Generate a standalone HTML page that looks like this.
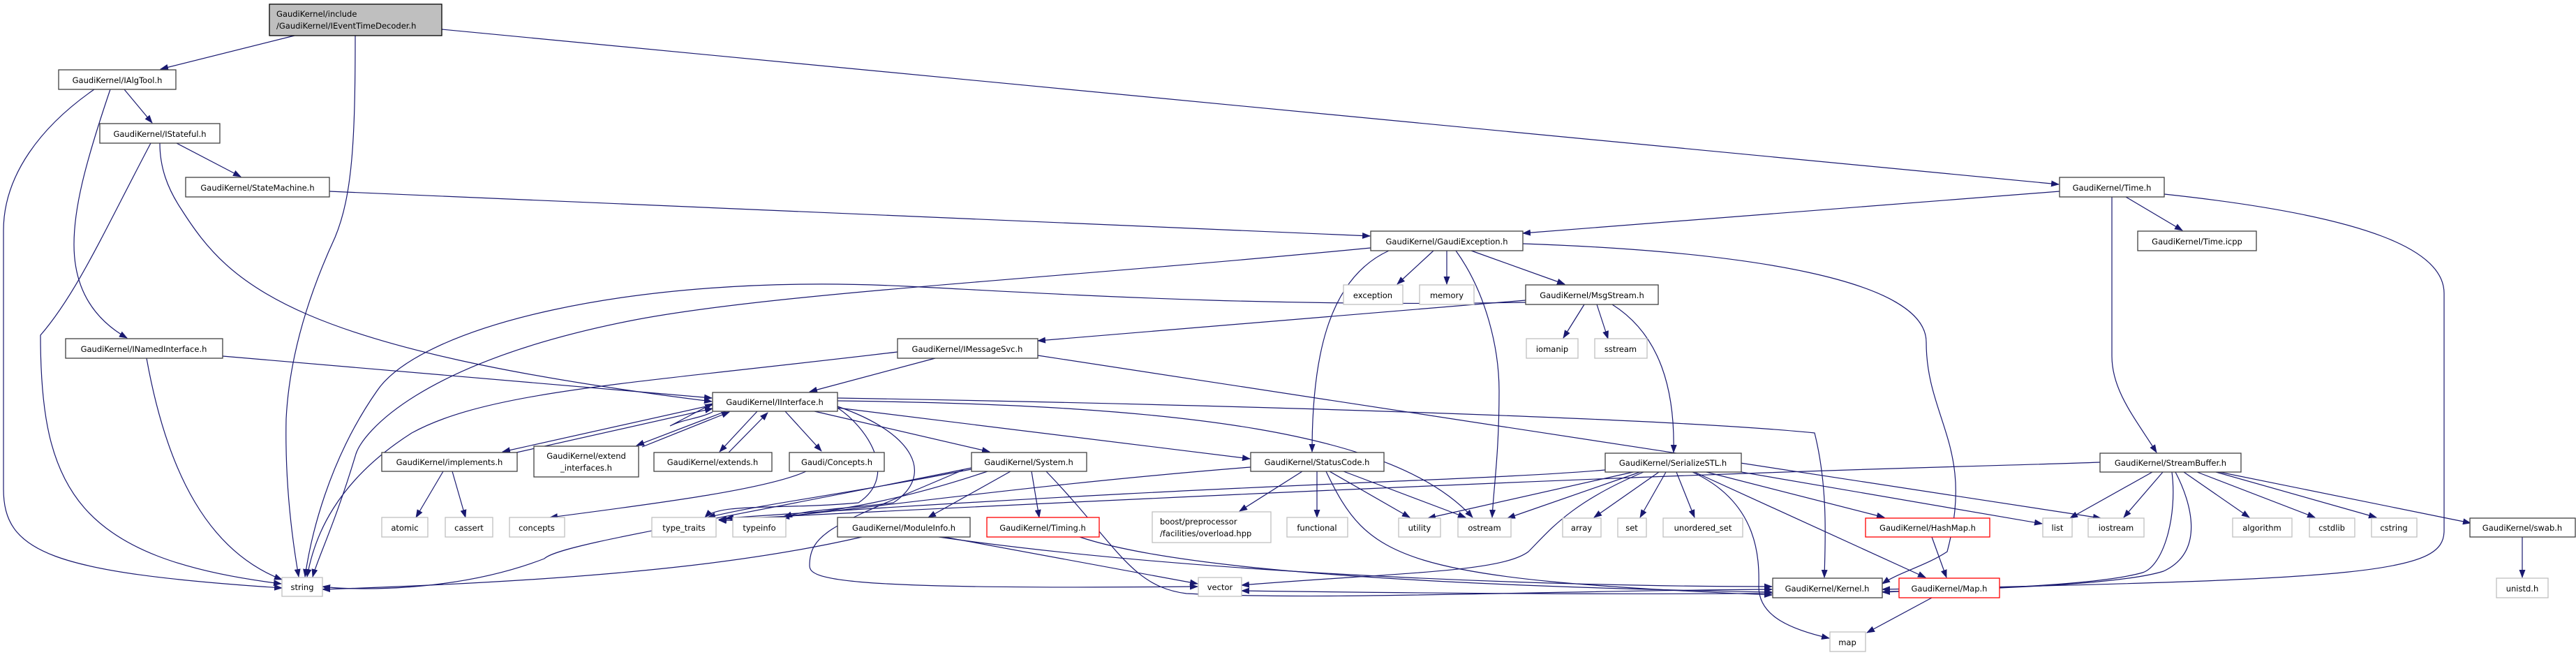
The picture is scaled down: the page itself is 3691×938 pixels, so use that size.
<!DOCTYPE html>
<html><head><meta charset="utf-8"><style>
html,body{margin:0;padding:0;background:#fff;}
svg{display:block;}
text{font-family:"DejaVu Sans","Liberation Sans",sans-serif;font-size:11.5px;fill:#000;}
.e{fill:none;stroke:#191970;stroke-width:1.2;}
.n{fill:#fff;stroke:#404040;stroke-width:1.3;}
.x{fill:#fff;stroke:#bfbfbf;stroke-width:1.3;}
.r{fill:#fff;stroke:#ff0000;stroke-width:1.3;}
</style></head><body>
<svg width="3691" height="938" viewBox="0 0 3691 938" xmlns="http://www.w3.org/2000/svg">
<defs><marker id="a" markerWidth="12" markerHeight="9" refX="11" refY="4.5" orient="auto" markerUnits="userSpaceOnUse"><path d="M0,0 L12,4.5 L0,9 z" fill="#191970"/></marker></defs>
<g marker-end="url(#a)">
<!-- root -->
<path class="e" d="M422,51 L230,99"/>
<path class="e" d="M509,51 C509,200 505,280 480,340 C420,470 412,560 410,600 C408,700 420,780 428,826"/>
<path class="e" d="M633,42 L2950,264"/>
<!-- IAlgTool -->
<path class="e" d="M178,128 L218,176"/>
<path class="e" d="M158,128 C120,240 106,300 106,350 C106,420 140,460 182,484"/>
<path class="e" d="M135,128 C60,180 5,250 5,330 L5,700 C5,790 70,820 404,842"/>
<!-- IStateful -->
<path class="e" d="M253,205 L345,253"/>
<path class="e" d="M216,205 C150,330 110,420 58,480 C58,700 110,800 403,836"/>
<path class="e" d="M229,205 C229,240 240,270 260,300 C330,410 420,500 1020,575"/>
<!-- StateMachine -->
<path class="e" d="M472,274 L1963,338"/>
<!-- INamedInterface -->
<path class="e" d="M319,510 L1020,570"/>
<path class="e" d="M210,513 C240,680 300,790 404,830"/>
<!-- IMessageSvc -->
<path class="e" d="M1340,513 L1160,561"/>
<path class="e" d="M1286,504 C900,550 700,560 590,620 C480,690 450,770 440,826"/>
<path class="e" d="M1487,509 L3010,742"/>
<!-- MsgStream -->
<path class="e" d="M2186,430 L1487,488"/>
<path class="e" d="M2186,433 C1800,440 1500,420 1300,410 C900,390 600,470 540,560 C470,660 445,770 437,826"/>
<path class="e" d="M2270,436 L2240,484"/>
<path class="e" d="M2288,436 L2304,485"/>
<path class="e" d="M2310,436 C2380,480 2400,560 2398,648"/>
<!-- GaudiException -->
<path class="e" d="M2054,359 L2002,407"/>
<path class="e" d="M2073,359 L2073,407"/>
<path class="e" d="M2108,359 L2242,407"/>
<path class="e" d="M2086,359 C2130,420 2148,500 2148,560 C2148,650 2140,700 2138,741"/>
<path class="e" d="M1990,359 C1900,400 1880,520 1880,647"/>
<path class="e" d="M1964,355 C1500,400 1100,420 900,460 C600,520 520,620 510,650 C480,750 455,800 448,826"/>
<path class="e" d="M2182,349 C2500,360 2760,400 2760,490 C2760,600 2830,640 2790,790 C2760,810 2720,820 2697,836"/>
<!-- Time.h -->
<path class="e" d="M2951,274 L2182,334"/>
<path class="e" d="M3046,282 L3127,330"/>
<path class="e" d="M3026,282 L3026,510 C3026,560 3060,600 3090,648"/>
<path class="e" d="M3101,278 C3400,310 3502,360 3502,420 L3502,760 C3502,820 3400,830 2697,844"/>
<!-- IInterface -->
<path class="e" d="M1021,580 L720,647"/>
<path class="e" d="M731,650 L1021,585"/>
<path class="e" d="M1040,589 L912,638"/>
<path class="e" d="M920,640 L1045,590"/>
<path class="e" d="M1085,589 L1031,647"/>
<path class="e" d="M1044,648 L1100,591"/>
<path class="e" d="M1125,589 L1177,646"/>
<path class="e" d="M1167,589 L1418,647"/>
<path class="e" d="M1200,584 L1791,657"/>
<path class="e" d="M1200,584 C1240,610 1290,680 1230,720 C1120,730 1030,720 1010,741"/>
<path class="e" d="M1200,582 C1310,620 1340,680 1280,720 C1200,730 1150,730 1124,741"/>
<path class="e" d="M1200,574 C1700,580 2000,620 2110,741"/>
<path class="e" d="M1200,570 C1800,580 2400,600 2600,620 C2620,700 2615,780 2614,827"/>
<path class="e" d="M1021,590 C1000,600 980,600 960,610 L1021,578"/>
<!-- implements, Concepts -->
<path class="e" d="M635,675 L596,741"/>
<path class="e" d="M648,675 L667,741"/>
<path class="e" d="M1155,675 C1100,700 950,720 788,741"/>
<!-- System -->
<path class="e" d="M1392,672 C1200,710 1100,720 1014,741"/>
<path class="e" d="M1415,675 C1280,720 1200,730 1120,741"/>
<path class="e" d="M1448,675 L1330,741"/>
<path class="e" d="M1478,675 L1489,741"/>
<path class="e" d="M1392,670 C1000,750 800,780 780,800 C650,850 500,845 462,840"/>
<path class="e" d="M1380,673 C1200,750 1160,760 1160,810 C1160,830 1200,845 1716,840"/>
<path class="e" d="M1499,675 C1600,780 1620,840 1700,850 C1900,860 2200,846 2539,844"/>
<!-- ModuleInfo, Timing -->
<path class="e" d="M1353,769 L1716,836"/>
<path class="e" d="M1235,769 C1100,800 900,830 462,844"/>
<path class="e" d="M1345,769 C1700,820 2200,840 2539,840"/>
<path class="e" d="M1547,769 C1700,820 2100,840 2539,848"/>
<!-- StatusCode -->
<path class="e" d="M1866,675 L1776,732"/>
<path class="e" d="M1887,675 L1887,741"/>
<path class="e" d="M1905,675 L2020,741"/>
<path class="e" d="M1925,675 L2100,741"/>
<path class="e" d="M1900,675 C1960,800 2000,830 2539,852"/>
<path class="e" d="M1792,669 C1400,700 1100,750 1030,745"/>
<!-- SerializeSTL -->
<path class="e" d="M2340,676 L2046,742"/>
<path class="e" d="M2350,676 L2160,742"/>
<path class="e" d="M2377,676 L2284,741"/>
<path class="e" d="M2387,676 L2350,741"/>
<path class="e" d="M2402,676 L2428,741"/>
<path class="e" d="M2445,676 L2700,741"/>
<path class="e" d="M2495,676 L2926,750"/>
<path class="e" d="M2425,676 C2520,720 2521,800 2520,840 C2520,880 2560,900 2621,914"/>
<path class="e" d="M2428,676 L2759,827"/>
<path class="e" d="M2355,676 C2250,720 2220,760 2190,790 C2150,820 2000,820 1779,838"/>
<path class="e" d="M2300,673 C2100,690 1800,690 1040,742"/>
<!-- HashMap, Map, swab -->
<path class="e" d="M2768,769 L2789,827"/>
<path class="e" d="M2768,856 L2675,906"/>
<path class="e" d="M3614,769 L3614,827"/>
<!-- StreamBuffer -->
<path class="e" d="M3084,676 L2966,742"/>
<path class="e" d="M3099,676 L3043,741"/>
<path class="e" d="M3129,676 L3223,741"/>
<path class="e" d="M3148,676 L3317,741"/>
<path class="e" d="M3175,676 L3405,741"/>
<path class="e" d="M3180,676 L3540,749"/>
<path class="e" d="M3112,676 C3120,740 3100,810 3070,820 C3000,840 2800,844 2697,848"/>
<path class="e" d="M3117,676 C3140,720 3160,790 3100,818 C3000,850 2500,856 1779,846"/>
<path class="e" d="M3009,662 C2800,670 2500,670 1030,744"/>
</g>
<!-- nodes -->
<rect x="386" y="6" width="247" height="45" fill="#bfbfbf" stroke="#000" stroke-width="1.3"/>
<text x="396" y="24">GaudiKernel/include</text><text x="396" y="41">/GaudiKernel/IEventTimeDecoder.h</text>
<rect class="n" x="84" y="100" width="168" height="28"/><text x="168" y="119" text-anchor="middle">GaudiKernel/IAlgTool.h</text>
<rect class="n" x="143" y="177" width="172" height="28"/><text x="229" y="196" text-anchor="middle">GaudiKernel/IStateful.h</text>
<rect class="n" x="266" y="254" width="206" height="28"/><text x="369" y="273" text-anchor="middle">GaudiKernel/StateMachine.h</text>
<rect class="n" x="94" y="485" width="225" height="28"/><text x="206" y="504" text-anchor="middle">GaudiKernel/INamedInterface.h</text>
<rect class="x" x="404" y="827" width="58" height="27"/><text x="433" y="845" text-anchor="middle">string</text>
<rect class="n" x="547" y="648" width="194" height="27"/><text x="644" y="666" text-anchor="middle">GaudiKernel/implements.h</text>
<rect class="n" x="765" y="639" width="150" height="44"/><text x="840" y="657" text-anchor="middle">GaudiKernel/extend</text><text x="840" y="674" text-anchor="middle">_interfaces.h</text>
<rect class="n" x="937" y="648" width="169" height="27"/><text x="1021" y="666" text-anchor="middle">GaudiKernel/extends.h</text>
<rect class="n" x="1131" y="648" width="136" height="27"/><text x="1199" y="666" text-anchor="middle">Gaudi/Concepts.h</text>
<rect class="n" x="1392" y="648" width="165" height="27"/><text x="1474" y="666" text-anchor="middle">GaudiKernel/System.h</text>
<rect class="n" x="1792" y="648" width="191" height="27"/><text x="1887" y="666" text-anchor="middle">GaudiKernel/StatusCode.h</text>
<rect class="n" x="1286" y="485" width="201" height="28"/><text x="1386" y="504" text-anchor="middle">GaudiKernel/IMessageSvc.h</text>
<rect class="n" x="1021" y="562" width="179" height="27"/><text x="1110" y="580" text-anchor="middle">GaudiKernel/IInterface.h</text>
<rect class="x" x="547" y="741" width="66" height="28"/><text x="580" y="760" text-anchor="middle">atomic</text>
<rect class="x" x="638" y="741" width="68" height="28"/><text x="672" y="760" text-anchor="middle">cassert</text>
<rect class="x" x="730" y="741" width="79" height="28"/><text x="769" y="760" text-anchor="middle">concepts</text>
<rect class="x" x="934" y="741" width="92" height="28"/><text x="980" y="760" text-anchor="middle">type_traits</text>
<rect class="x" x="1050" y="741" width="76" height="28"/><text x="1088" y="760" text-anchor="middle">typeinfo</text>
<rect class="n" x="1200" y="741" width="190" height="28"/><text x="1295" y="760" text-anchor="middle">GaudiKernel/ModuleInfo.h</text>
<rect class="r" x="1414" y="741" width="161" height="28"/><text x="1494" y="760" text-anchor="middle">GaudiKernel/Timing.h</text>
<rect class="x" x="1651" y="733" width="170" height="44"/><text x="1662" y="751">boost/preprocessor</text><text x="1662" y="768">/facilities/overload.hpp</text>
<rect class="x" x="1844" y="741" width="87" height="28"/><text x="1887" y="760" text-anchor="middle">functional</text>
<rect class="x" x="2004" y="742" width="60" height="27"/><text x="2034" y="760" text-anchor="middle">utility</text>
<rect class="x" x="2089" y="742" width="76" height="27"/><text x="2127" y="760" text-anchor="middle">ostream</text>
<rect class="x" x="2239" y="742" width="55" height="27"/><text x="2266" y="760" text-anchor="middle">array</text>
<rect class="x" x="2318" y="742" width="41" height="27"/><text x="2338" y="760" text-anchor="middle">set</text>
<rect class="x" x="2383" y="742" width="114" height="27"/><text x="2440" y="760" text-anchor="middle">unordered_set</text>
<rect class="r" x="2673" y="742" width="178" height="27"/><text x="2762" y="760" text-anchor="middle">GaudiKernel/HashMap.h</text>
<rect class="x" x="2927" y="742" width="42" height="27"/><text x="2948" y="760" text-anchor="middle">list</text>
<rect class="x" x="2992" y="742" width="80" height="27"/><text x="3032" y="760" text-anchor="middle">iostream</text>
<rect class="x" x="3199" y="742" width="85" height="27"/><text x="3241" y="760" text-anchor="middle">algorithm</text>
<rect class="x" x="3309" y="742" width="65" height="27"/><text x="3341" y="760" text-anchor="middle">cstdlib</text>
<rect class="x" x="3398" y="742" width="65" height="27"/><text x="3430" y="760" text-anchor="middle">cstring</text>
<rect class="n" x="3539" y="742" width="151" height="27"/><text x="3614" y="760" text-anchor="middle">GaudiKernel/swab.h</text>
<rect class="x" x="1717" y="827" width="62" height="27"/><text x="1748" y="845" text-anchor="middle">vector</text>
<rect class="n" x="2540" y="828" width="157" height="28"/><text x="2618" y="847" text-anchor="middle">GaudiKernel/Kernel.h</text>
<rect class="r" x="2721" y="828" width="144" height="28"/><text x="2793" y="847" text-anchor="middle">GaudiKernel/Map.h</text>
<rect class="x" x="3577" y="828" width="74" height="28"/><text x="3614" y="847" text-anchor="middle">unistd.h</text>
<rect class="x" x="2622" y="905" width="51" height="28"/><text x="2647" y="924" text-anchor="middle">map</text>
<rect class="n" x="1964" y="331" width="218" height="28"/><text x="2073" y="350" text-anchor="middle">GaudiKernel/GaudiException.h</text>
<rect class="x" x="1925" y="408" width="85" height="28"/><text x="1967" y="427" text-anchor="middle">exception</text>
<rect class="x" x="2034" y="408" width="78" height="28"/><text x="2073" y="427" text-anchor="middle">memory</text>
<rect class="n" x="2186" y="408" width="190" height="28"/><text x="2281" y="427" text-anchor="middle">GaudiKernel/MsgStream.h</text>
<rect class="x" x="2187" y="485" width="74" height="28"/><text x="2224" y="504" text-anchor="middle">iomanip</text>
<rect class="x" x="2285" y="485" width="75" height="28"/><text x="2322" y="504" text-anchor="middle">sstream</text>
<rect class="n" x="2300" y="649" width="195" height="27"/><text x="2397" y="667" text-anchor="middle">GaudiKernel/SerializeSTL.h</text>
<rect class="n" x="2951" y="254" width="150" height="28"/><text x="3026" y="273" text-anchor="middle">GaudiKernel/Time.h</text>
<rect class="n" x="3063" y="331" width="170" height="28"/><text x="3148" y="350" text-anchor="middle">GaudiKernel/Time.icpp</text>
<rect class="n" x="3009" y="649" width="202" height="27"/><text x="3110" y="667" text-anchor="middle">GaudiKernel/StreamBuffer.h</text>
</svg>
</body></html>
